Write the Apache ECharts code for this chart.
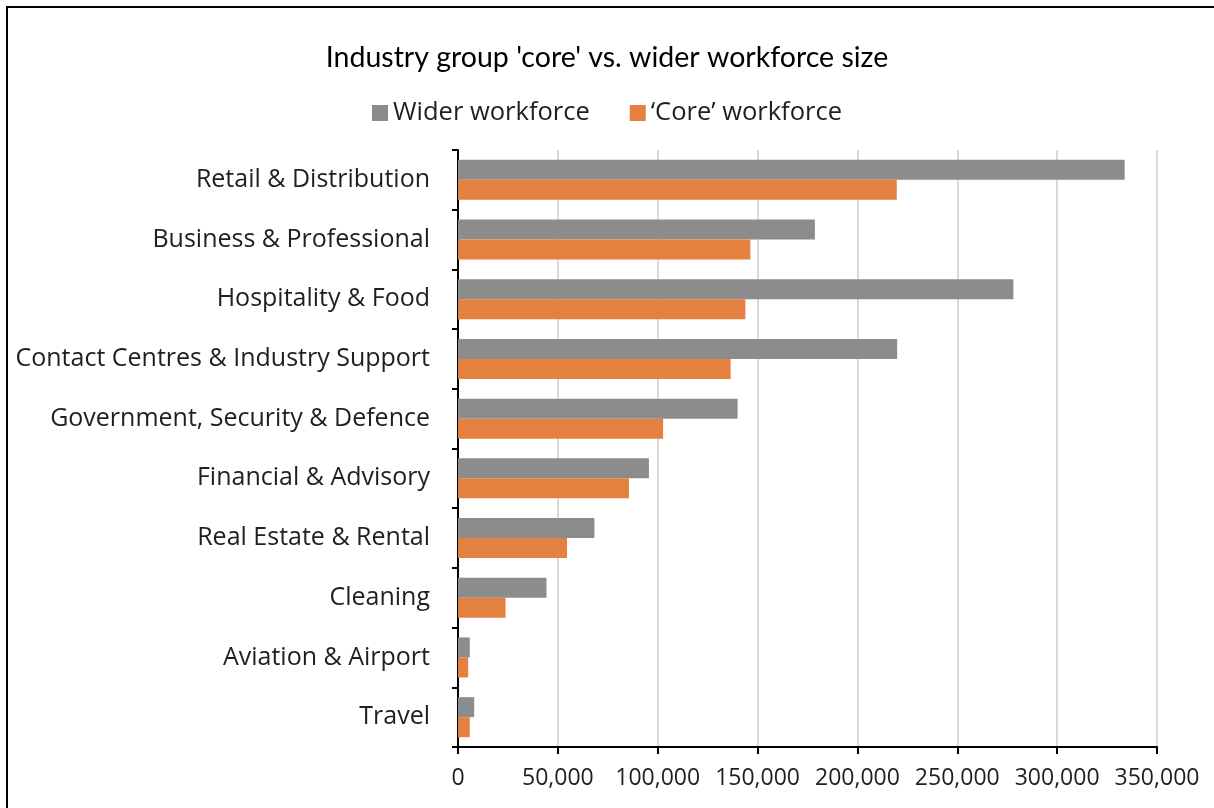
<!DOCTYPE html>
<html>
<head>
<meta charset="utf-8">
<style>
  html, body { margin: 0; padding: 0; background: #ffffff; }
  #chart { width: 1214px; height: 808px; }
</style>
<script src="https://cdn.jsdelivr.net/npm/echarts@6/dist/echarts.min.js"></script>
</head>
<body>
<div id="chart"></div>
<script>
// Industry groups, top to bottom
const categories = [
  'Retail & Distribution',
  'Business & Professional',
  'Hospitality & Food',
  'Contact Centres & Industry Support',
  'Government, Security & Defence',
  'Financial & Advisory',
  'Real Estate & Rental',
  'Cleaning',
  'Aviation & Airport',
  'Travel'
];

// Workforce sizes (people)
const widerWorkforce = [333800, 178700, 278100, 219900, 140000, 95600, 68300, 44300, 5900, 8100];
const coreWorkforce  = [219700, 146400, 143900, 136500, 102700, 85600, 54600, 23800, 5100, 5900];

const seriesNames = ['Wider workforce', '\u2018Core\u2019 workforce'];

const FONT = '"Open Sans", "Noto Sans", sans-serif';

const chart = echarts.init(document.getElementById('chart'), null, { renderer: 'canvas' });

chart.setOption({
  animation: false,
  backgroundColor: '#ffffff',
  textStyle: { fontFamily: FONT },
  title: {
    text: "Industry group 'core' vs. wider workforce size",
    left: 'center',
    top: 38,
    textStyle: {
      fontFamily: 'Lato, "Noto Sans", sans-serif',
      fontSize: 28.5,
      fontWeight: 'normal',
      color: '#000000'
    }
  },
  legend: {
    data: seriesNames,
    left: 'center',
    top: 95,
    itemWidth: 16,
    itemHeight: 16,
    itemGap: 40,
    icon: 'rect',
    textStyle: { fontFamily: FONT, fontSize: 25.5, color: '#1f1f1f' }
  },
  // frame around the chart area (left and top edges fall inside the canvas)
  graphic: [{
    type: 'polyline',
    shape: { points: [[7, 820], [7, 7], [1230, 7]] },
    style: { fill: null, stroke: '#000000', lineWidth: 2 },
    z: 100
  }],
  grid: { left: 458, right: 57, top: 150, bottom: 61, containLabel: false },
  xAxis: {
    type: 'value',
    min: 0,
    max: 350000,
    interval: 50000,
    axisLine: { show: true, lineStyle: { color: '#000000', width: 2 } },
    axisTick: { show: true, length: 7, lineStyle: { color: '#000000', width: 2 } },
    splitLine: { show: true, lineStyle: { color: '#d9d9d9', width: 2 } },
    axisLabel: {
      fontFamily: FONT,
      fontSize: 23,
      color: '#1f1f1f',
      margin: 20,
      formatter: v => v.toLocaleString('en-US')
    }
  },
  yAxis: {
    type: 'category',
    data: categories,
    inverse: true,
    axisLine: { show: true, lineStyle: { color: '#000000', width: 2 } },
    axisTick: { show: true, length: 6, lineStyle: { color: '#000000', width: 2 } },
    axisLabel: { fontFamily: FONT, fontSize: 25, color: '#1f1f1f', margin: 28 }
  },
  series: [
    {
      name: seriesNames[0],
      type: 'bar',
      data: widerWorkforce,
      barGap: '0%',
      barCategoryGap: '33%',
      itemStyle: { color: '#8c8c8c' }
    },
    {
      name: seriesNames[1],
      type: 'bar',
      data: coreWorkforce,
      barGap: '0%',
      barCategoryGap: '33%',
      itemStyle: { color: '#e58140' }
    }
  ]
});
</script>
</body>
</html>
